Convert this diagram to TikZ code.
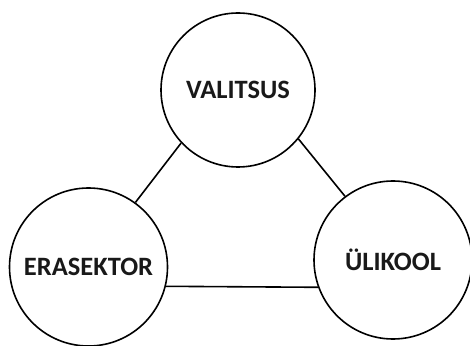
\documentclass[tikz,border=0pt]{standalone}
\usepackage{fontspec}
\setmainfont{Carlito}
\begin{document}
\begin{tikzpicture}[x=1pt,y=1pt,
  actor/.style={circle,draw=black,line width=1.6pt,inner sep=0pt,
    minimum size=#1,font=\fontsize{26.5}{30}\selectfont\bfseries,text=black!90},
  link/.style={line width=1.6pt,draw=black}]
\useasboundingbox (0,0) rectangle (470,345);
% the three partners
\node[actor=154pt] (V) at (238,255) {\raisebox{-3pt}{VALITSUS}};
\node[actor=158pt] (E) at (88.5,78) {\raisebox{-3pt}{ERASEKTOR}};
\node[actor=158pt] (U) at (393,85) {\raisebox{-6pt}{ÜLIKOOL}};
% connections between them
\draw[link] (E.54.6) -- (V.223.4);
\draw[link] (V.-39.8) -- (U.127.5);
\draw[link] (E.-14) -- (U.-160.7);
\end{tikzpicture}
\end{document}
